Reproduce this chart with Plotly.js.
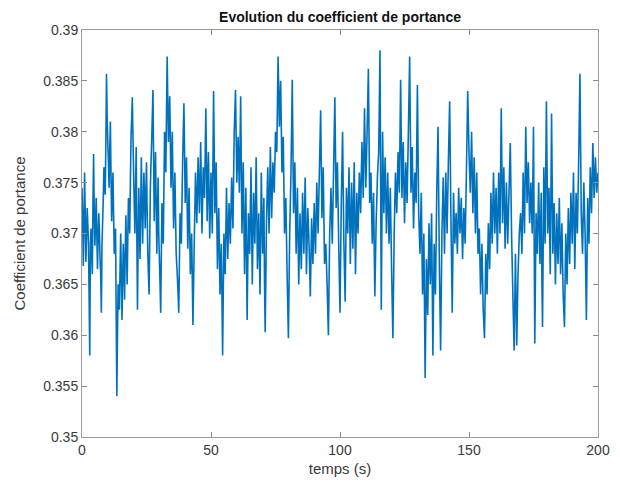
<!DOCTYPE html>
<html>
<head>
<meta charset="utf-8">
<script src="https://cdn.plot.ly/plotly-3.0.1.min.js"></script>
<style>html,body{margin:0;padding:0;background:#fff;}#chart{width:620px;height:488px;}</style>
</head>
<body>
<div id="chart"></div>
<script>
// sampling: main samples every 0.5 s, extra samples read between them (at +0.25 s)
const tStart = 0;
const tStep = 0.5;

// lift coefficient at t = 0, 0.5, ..., 200 s
const cl = [
0.3745,0.3668,0.3760,0.3672,0.3725,0.3690,0.3580,0.3705,0.3660,0.3778,
0.3688,0.3735,0.3665,0.3720,0.3675,0.3622,0.3712,0.3765,0.3738,0.3857,
0.3790,0.3745,0.3810,0.3712,0.3760,0.3680,0.3705,0.3540,0.3650,0.3625,
0.3700,0.3615,0.3690,0.3635,0.3718,0.3650,0.3735,0.3700,0.3795,0.3834,
0.3760,0.3700,0.3785,0.3625,0.3745,0.3675,0.3775,0.3690,0.3760,0.3705,
0.3770,0.3680,0.3640,0.3745,0.3790,0.3841,0.3712,0.3780,0.3680,0.3755,
0.3675,0.3622,0.3730,0.3690,0.3800,0.3760,0.3874,0.3790,0.3835,0.3745,
0.3800,0.3705,0.3760,0.3680,0.3655,0.3622,0.3720,0.3690,0.3770,0.3828,
0.3730,0.3775,0.3685,0.3745,0.3660,0.3700,0.3610,0.3690,0.3760,0.3710,
0.3775,0.3720,0.3790,0.3700,0.3765,0.3735,0.3823,0.3712,0.3780,0.3695,
0.3760,0.3700,0.3840,0.3720,0.3770,0.3665,0.3725,0.3640,0.3690,0.3580,
0.3700,0.3660,0.3745,0.3675,0.3730,0.3690,0.3755,0.3705,0.3800,0.3841,
0.3750,0.3795,0.3740,0.3835,0.3700,0.3770,0.3660,0.3745,0.3615,0.3720,
0.3680,0.3765,0.3650,0.3740,0.3690,0.3775,0.3665,0.3720,0.3640,0.3760,
0.3680,0.3735,0.3603,0.3710,0.3765,0.3700,0.3785,0.3715,0.3770,0.3740,
0.3800,0.3780,0.3874,0.3805,0.3850,0.3760,0.3795,0.3700,0.3735,0.3660,
0.3597,0.3700,0.3760,0.3851,0.3720,0.3770,0.3680,0.3745,0.3650,0.3720,
0.3665,0.3740,0.3680,0.3755,0.3660,0.3725,0.3690,0.3638,0.3715,0.3670,
0.3730,0.3680,0.3750,0.3700,0.3760,0.3821,0.3715,0.3765,0.3670,0.3690,
0.3650,0.3600,0.3700,0.3745,0.3690,0.3760,0.3834,0.3725,0.3770,0.3690,
0.3622,0.3730,0.3800,0.3690,0.3633,0.3745,0.3700,0.3765,0.3670,0.3750,
0.3685,0.3770,0.3660,0.3740,0.3700,0.3760,0.3720,0.3790,0.3735,0.3823,
0.3745,0.3800,0.3862,0.3730,0.3760,0.3690,0.3740,0.3638,0.3710,0.3755,
0.3780,0.3880,0.3625,0.3800,0.3720,0.3775,0.3700,0.3760,0.3690,0.3745,
0.3665,0.3597,0.3700,0.3760,0.3720,0.3780,0.3740,0.3851,0.3735,0.3790,
0.3710,0.3770,0.3730,0.3800,0.3874,0.3740,0.3785,0.3705,0.3760,0.3730,
0.3846,0.3720,0.3680,0.3740,0.3640,0.3700,0.3558,0.3675,0.3620,0.3710,
0.3650,0.3720,0.3580,0.3690,0.3640,0.3740,0.3805,0.3670,0.3585,0.3700,
0.3755,0.3680,0.3760,0.3700,0.3770,0.3830,0.3715,0.3622,0.3740,0.3690,
0.3720,0.3680,0.3745,0.3700,0.3735,0.3675,0.3725,0.3690,0.3760,0.3840,
0.3780,0.3740,0.3800,0.3720,0.3775,0.3700,0.3760,0.3680,0.3705,0.3640,
0.3690,0.3625,0.3597,0.3680,0.3640,0.3710,0.3665,0.3740,0.3690,0.3760,
0.3700,0.3745,0.3680,0.3760,0.3700,0.3823,0.3710,0.3765,0.3685,0.3750,
0.3690,0.3740,0.3789,0.3700,0.3640,0.3585,0.3680,0.3590,0.3660,0.3700,
0.3720,0.3680,0.3760,0.3700,0.3805,0.3730,0.3770,0.3710,0.3750,0.3700,
0.3805,0.3592,0.3720,0.3680,0.3750,0.3670,0.3740,0.3608,0.3765,0.3690,
0.3830,0.3700,0.3745,0.3660,0.3818,0.3680,0.3730,0.3650,0.3720,0.3670,
0.3735,0.3660,0.3710,0.3640,0.3608,0.3700,0.3650,0.3725,0.3670,0.3740,
0.3690,0.3760,0.3665,0.3740,0.3700,0.3770,0.3857,0.3720,0.3680,0.3750,
0.3700,0.3615,0.3735,0.3690,0.3765,0.3720,0.3789,0.3735,0.3775,0.3740,
0.3760
];

// lift coefficient at t = 0.25, 0.75, ..., 199.75 s
const clMid = [
0.3715,0.3708,0.3720,0.3698,0.3710,0.3640,0.3690,0.3685,0.3730,0.3720,
0.3712,0.3700,0.3695,0.3702,0.3660,0.3690,0.3735,0.3750,0.3790,0.3815,
0.3770,0.3782,0.3755,0.3740,0.3718,0.3690,0.3620,0.3600,0.3640,0.3665,
0.3660,0.3655,0.3668,0.3680,0.3685,0.3695,0.3720,0.3750,0.3812,0.3795,
0.3728,0.3742,0.3700,0.3690,0.3712,0.3725,0.3730,0.3728,0.3735,0.3740,
0.3722,0.3660,0.3695,0.3770,0.3815,0.3775,0.3750,0.3728,0.3720,0.3700,
0.3650,0.3680,0.3710,0.3745,0.3780,0.3820,0.3830,0.3812,0.3790,0.3772,
0.3750,0.3730,0.3720,0.3668,0.3640,0.3672,0.3705,0.3730,0.3800,0.3780,
0.3752,0.3730,0.3715,0.3702,0.3680,0.3655,0.3650,0.3725,0.3735,0.3742,
0.3748,0.3755,0.3745,0.3732,0.3750,0.3780,0.3768,0.3746,0.3738,0.3728,
0.3730,0.3770,0.3780,0.3745,0.3718,0.3695,0.3682,0.3665,0.3635,0.3640,
0.3680,0.3702,0.3710,0.3702,0.3710,0.3722,0.3730,0.3752,0.3820,0.3795,
0.3772,0.3768,0.3788,0.3768,0.3735,0.3715,0.3702,0.3680,0.3668,0.3700,
0.3722,0.3708,0.3695,0.3715,0.3732,0.3720,0.3692,0.3680,0.3700,0.3720,
0.3708,0.3650,0.3656,0.3738,0.3732,0.3742,0.3750,0.3742,0.3755,0.3770,
0.3790,0.3828,0.3840,0.3828,0.3805,0.3778,0.3748,0.3718,0.3698,0.3628,
0.3650,0.3730,0.3805,0.3785,0.3745,0.3725,0.3712,0.3698,0.3685,0.3692,
0.3702,0.3710,0.3718,0.3708,0.3692,0.3708,0.3664,0.3676,0.3692,0.3700,
0.3705,0.3715,0.3725,0.3730,0.3790,0.3768,0.3740,0.3718,0.3680,0.3670,
0.3625,0.3650,0.3722,0.3718,0.3725,0.3797,0.3780,0.3748,0.3730,0.3656,
0.3676,0.3765,0.3745,0.3662,0.3690,0.3722,0.3732,0.3718,0.3710,0.3718,
0.3728,0.3715,0.3700,0.3720,0.3730,0.3740,0.3755,0.3762,0.3780,0.3784,
0.3772,0.3830,0.3796,0.3745,0.3725,0.3715,0.3688,0.3674,0.3732,0.3768,
0.3830,0.3752,0.3712,0.3760,0.3748,0.3738,0.3730,0.3725,0.3718,0.3705,
0.3630,0.3648,0.3730,0.3740,0.3750,0.3760,0.3795,0.3793,0.3762,0.3750,
0.3740,0.3750,0.3765,0.3837,0.3807,0.3762,0.3745,0.3732,0.3745,0.3788,
0.3783,0.3700,0.3710,0.3690,0.3670,0.3629,0.3616,0.3648,0.3665,0.3680,
0.3685,0.3650,0.3635,0.3665,0.3690,0.3772,0.3738,0.3628,0.3642,0.3728,
0.3718,0.3720,0.3730,0.3735,0.3800,0.3772,0.3668,0.3681,0.3715,0.3705,
0.3700,0.3712,0.3722,0.3718,0.3705,0.3700,0.3708,0.3725,0.3800,0.3810,
0.3760,0.3770,0.3760,0.3748,0.3738,0.3730,0.3720,0.3692,0.3672,0.3665,
0.3658,0.3611,0.3638,0.3660,0.3675,0.3688,0.3702,0.3715,0.3725,0.3730,
0.3722,0.3712,0.3720,0.3730,0.3762,0.3766,0.3738,0.3725,0.3718,0.3720,
0.3715,0.3765,0.3745,0.3670,0.3612,0.3632,0.3635,0.3625,0.3680,0.3710,
0.3700,0.3720,0.3730,0.3752,0.3768,0.3750,0.3740,0.3730,0.3725,0.3752,
0.3698,0.3656,0.3700,0.3715,0.3710,0.3705,0.3654,0.3686,0.3728,0.3760,
0.3765,0.3722,0.3703,0.3739,0.3749,0.3705,0.3690,0.3685,0.3695,0.3702,
0.3698,0.3685,0.3675,0.3624,0.3654,0.3675,0.3688,0.3698,0.3705,0.3715,
0.3725,0.3712,0.3702,0.3720,0.3735,0.3813,0.3788,0.3700,0.3715,0.3725,
0.3658,0.3675,0.3712,0.3728,0.3742,0.3755,0.3762,0.3755,0.3758,0.3750
];

const xTicks = [0, 50, 100, 150, 200];
const xTickLabels = ['0', '50', '100', '150', '200'];
const yTicks = [0.35, 0.355, 0.36, 0.365, 0.37, 0.375, 0.38, 0.385, 0.39];
const yTickLabels = ['0.35', '0.355', '0.36', '0.365', '0.37', '0.375', '0.38', '0.385', '0.39'];

// merge the two read series into one time-ordered series
const t = [];
const y = [];
for (let i = 0; i < cl.length; i++) {
  t.push(tStart + i * tStep);
  y.push(cl[i]);
  if (i < clMid.length) {
    t.push(tStart + i * tStep + tStep / 2);
    y.push(clMid[i]);
  }
}

const fontFamily = 'Liberation Sans, Arial, sans-serif';

const axisCommon = {
  showgrid: false,
  zeroline: false,
  showline: true,
  linecolor: '#9a9a9a',
  linewidth: 1,
  mirror: 'ticks',
  ticks: 'inside',
  ticklen: 5,
  tickcolor: '#8a8a8a',
  tickwidth: 1,
  tickfont: {family: fontFamily, size: 14, color: '#3a3a3a'}
};

const data = [{
  x: t,
  y: y,
  type: 'scatter',
  mode: 'lines',
  line: {color: '#0072BD', width: 1.6, simplify: false},
  hoverinfo: 'x+y'
}];

const layout = {
  width: 620,
  height: 488,
  margin: {l: 82, r: 22, t: 30, b: 51},
  paper_bgcolor: '#ffffff',
  plot_bgcolor: '#ffffff',
  showlegend: false,
  title: {
    text: '<b>Evolution du coefficient de portance</b>',
    font: {family: fontFamily, size: 14, color: '#111111'},
    x: 0.5484, xanchor: 'center',
    y: 0.965, yanchor: 'middle', yref: 'container'
  },
  xaxis: Object.assign({}, axisCommon, {
    range: [0, 200],
    tickmode: 'array',
    tickvals: xTicks,
    ticktext: xTickLabels,
    title: {text: 'temps (s)', font: {family: fontFamily, size: 15, color: '#3a3a3a'}, standoff: 6}
  }),
  yaxis: Object.assign({}, axisCommon, {
    range: [0.35, 0.39],
    tickmode: 'array',
    tickvals: yTicks,
    ticktext: yTickLabels,
    title: {text: 'Coefficient de portance', font: {family: fontFamily, size: 15, color: '#3a3a3a'}, standoff: 13}
  })
};

Plotly.newPlot('chart', data, layout, {displayModeBar: false, staticPlot: true});
</script>
</body>
</html>
